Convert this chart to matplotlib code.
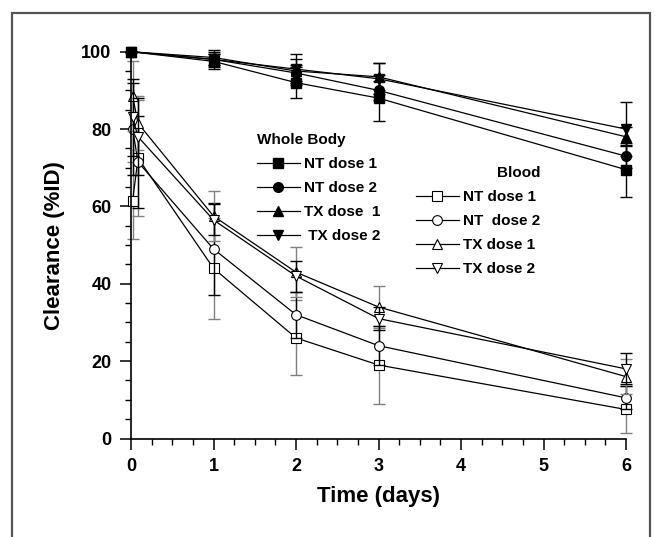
import matplotlib
matplotlib.use('Agg')
import matplotlib.pyplot as plt
from matplotlib.patches import Rectangle
from matplotlib.ticker import MultipleLocator

plt.rcParams['font.family'] = ['Liberation Sans', 'DejaVu Sans']
plt.rcParams['font.weight'] = 'bold'

# whole body (filled markers)
wb_t = [0, 1, 2, 3, 6]
wb_nt1 = [100, 97.5, 92, 88, 69.5]
wb_nt2 = [100, 98, 94.5, 90, 73]
wb_tx1 = [100, 98.5, 95, 93.5, 78]
wb_tx2 = [100, 98, 95.5, 93, 80]
wb_nt1_err = [0, 2, 4, 6, 7]
wb_nt2_err = [0, 1.5, 2, 2.5, 3]
wb_tx1_err = [0, 2, 3, 3.5, 2.5]
wb_tx2_err = [0, 2, 4, 4, 7]

# blood (open markers)
bl_t = [0.02, 0.085, 1, 2, 3, 6]
bl_nt1 = [61.5, 72.5, 44, 26, 19, 7.5]
bl_nt2 = [80, 71.5, 49, 32, 24, 10.5]
bl_tx1 = [88.5, 81.5, 57.5, 43, 34, 16]
bl_tx2 = [83, 78, 56.5, 42, 31, 18]
bl_nt1_err = [10, 15, 13, 9.7, 10, 6]
bl_nt2_err = [12, 12, 12, 6, 5, 3]
bl_tx1_err = [9, 7, 6.5, 6.5, 5.5, 4.5]
bl_tx2_err = [10, 10, 4, 4, 3, 4]

wb_labels = ['NT dose 1', 'NT dose 2', 'TX dose  1', ' TX dose 2']
bl_labels = ['NT dose 1', 'NT  dose 2', 'TX dose 1', 'TX dose 2']

fig = plt.figure(figsize=(6.55, 5.37), dpi=100)
ax = fig.add_axes([131/655, 1-438.5/537, 495/655, 386.8/537])

# outer frame (no bottom edge)
fig.patches.append(Rectangle((12/655, -0.05), 638/655, 1.05-13/537,
                             transform=fig.transFigure, fill=False,
                             edgecolor='#555555', linewidth=1.6))

wb_handles = []
for y, e, m in [(wb_nt1, wb_nt1_err, 's'), (wb_nt2, wb_nt2_err, 'o'),
                (wb_tx1, wb_tx1_err, '^'), (wb_tx2, wb_tx2_err, 'v')]:
    ax.errorbar(wb_t, y, yerr=e, fmt='none', ecolor='black', elinewidth=1,
                capsize=4, capthick=1, clip_on=False)
    h, = ax.plot(wb_t, y, color='black', lw=0.9, marker=m, markersize=7,
                 markerfacecolor='black', markeredgecolor='black', clip_on=False)
    wb_handles.append(h)

bl_handles = []
for y, e, m, ec in [(bl_nt1, bl_nt1_err, 's', '#808080'), (bl_nt2, bl_nt2_err, 'o', 'black'),
                    (bl_tx1, bl_tx1_err, '^', '#808080'), (bl_tx2, bl_tx2_err, 'v', 'black')]:
    ax.errorbar(bl_t, y, yerr=e, fmt='none', ecolor=ec, elinewidth=1,
                capsize=4, capthick=1, clip_on=False)
    h, = ax.plot(bl_t, y, color='black', lw=0.9, marker=m, markersize=7,
                 markerfacecolor='white', markeredgecolor='black',
                 markeredgewidth=0.8, clip_on=False)
    bl_handles.append(h)

ax.set_xlim(0, 6)
ax.set_ylim(0, 100)
ax.set_xticks(range(0, 7))
ax.set_yticks(range(0, 101, 20))
ax.xaxis.set_minor_locator(MultipleLocator(0.25))
ax.yaxis.set_minor_locator(MultipleLocator(5))
ax.tick_params(which='major', direction='out', length=8, width=1.1,
               labelsize=13, pad=6)
ax.tick_params(which='minor', direction='out', length=4, width=1)
for s in ['top', 'right']:
    ax.spines[s].set_visible(False)
for s in ['left', 'bottom']:
    ax.spines[s].set_linewidth(1.2)

ax.set_xlabel('Time (days)', fontsize=16, fontweight='bold', labelpad=8)
ax.set_ylabel('Clearance (%ID)', fontsize=16, fontweight='bold', labelpad=12)

leg1 = ax.legend(handles=wb_handles, labels=wb_labels, title='Whole Body',
                 loc='upper left', bbox_to_anchor=(257/655, 1-133/537),
                 bbox_transform=fig.transFigure, frameon=False, fontsize=11,
                 title_fontproperties={'weight': 'bold', 'size': 11},
                 handlelength=2.8, handletextpad=0.3, labelspacing=0.66,
                 borderpad=0, borderaxespad=0, alignment='left')
ax.add_artist(leg1)
ax.legend(handles=bl_handles, labels=bl_labels, title='Blood',
          loc='upper left', bbox_to_anchor=(416/655, 1-166/537),
          bbox_transform=fig.transFigure, frameon=False, fontsize=11,
          title_fontproperties={'weight': 'bold', 'size': 11},
          handlelength=2.8, handletextpad=0.3, labelspacing=0.66,
          borderpad=0, borderaxespad=0, alignment='right')

fig.savefig('out.png', dpi=100)
